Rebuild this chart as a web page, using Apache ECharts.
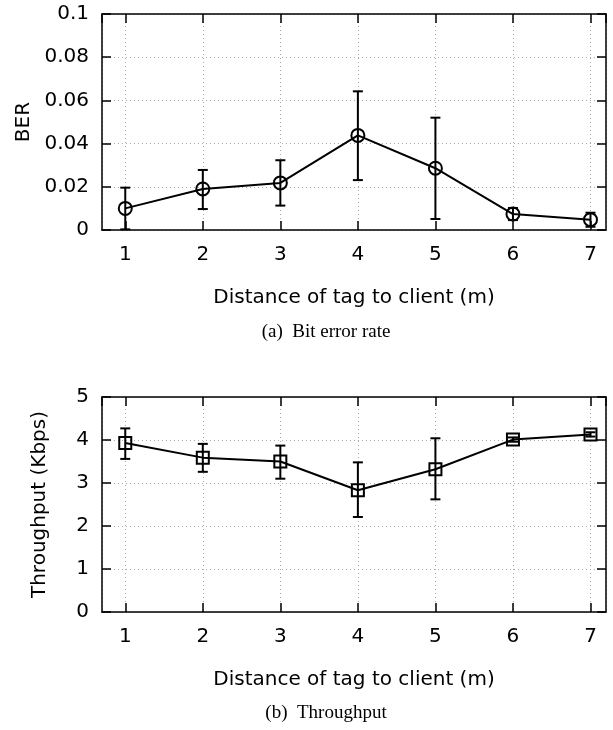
<!DOCTYPE html>
<html>
<head>
<meta charset="utf-8">
<script src="https://cdn.jsdelivr.net/npm/echarts@6/dist/echarts.min.js"></script>
<style>
  html, body { margin: 0; padding: 0; background: #fff; }
  #chart { width: 613px; height: 730px; }
</style>
</head>
<body>
<div id="chart"></div>
<script>
// distances (m)
var distances = [1, 2, 3, 4, 5, 6, 7];
// bit error rate: mean, low, high
var berMean = [0.0100, 0.0190, 0.0218, 0.0438, 0.0286, 0.0074, 0.0048];
var berLow  = [0.0003, 0.0097, 0.0113, 0.0231, 0.0051, 0.0046, 0.0015];
var berHigh = [0.0196, 0.0278, 0.0323, 0.0642, 0.0520, 0.0102, 0.0080];
// throughput (Kbps): mean, low, high
var tpMean = [3.93, 3.59, 3.50, 2.83, 3.32, 4.01, 4.13];
var tpLow  = [3.56, 3.26, 3.10, 2.21, 2.62, 3.96, 4.08];
var tpHigh = [4.27, 3.91, 3.87, 3.48, 4.04, 4.06, 4.18];

var chart = echarts.init(document.getElementById('chart'));

var font = 'DejaVu Sans';
var grid1 = { left: 102, top: 14, width: 504, height: 216 };
var grid2 = { left: 102, top: 397, width: 504, height: 215 };

function pairs(ys) {
  return distances.map(function (d, i) { return [d, ys[i]]; });
}
function errData(lo, hi) {
  return distances.map(function (d, i) { return [d, lo[i], hi[i]]; });
}

function errorBars(api) {
  var top = api.coord([api.value(0), api.value(2)]);
  var bot = api.coord([api.value(0), api.value(1)]);
  var cap = 5;
  var st = { stroke: '#000', lineWidth: 2 };
  return {
    type: 'group',
    children: [
      { type: 'line', shape: { x1: top[0], y1: top[1], x2: bot[0], y2: bot[1] }, style: st },
      { type: 'line', shape: { x1: top[0] - cap, y1: top[1], x2: top[0] + cap, y2: top[1] }, style: st },
      { type: 'line', shape: { x1: bot[0] - cap, y1: bot[1], x2: bot[0] + cap, y2: bot[1] }, style: st }
    ]
  };
}

var gridLine = { show: true, lineStyle: { color: '#aaa', width: 1, type: [1, 3] } };
var frameLine = { show: true, onZero: false, lineStyle: { color: '#000', width: 1.5 } };
var tick = { inside: true, length: 9, lineStyle: { color: '#000', width: 1.5 } };

function xAxes(gi, name) {
  return [{
    type: 'value', gridIndex: gi, position: 'bottom', min: 0.7, max: 7.2, minInterval: 1, maxInterval: 1,
    name: name, nameLocation: 'middle', nameGap: 58,
    nameTextStyle: { fontFamily: font, fontSize: 20, color: '#000' },
    axisLine: frameLine,
    axisTick: tick,
    axisLabel: { fontFamily: font, fontSize: 20, color: '#000', margin: 15, showMinLabel: false, showMaxLabel: false },
    splitLine: gridLine
  }, {
    type: 'value', gridIndex: gi, position: 'top', min: 0.7, max: 7.2, minInterval: 1, maxInterval: 1,
    axisLine: frameLine,
    axisTick: tick,
    axisLabel: { show: false },
    splitLine: { show: false }
  }];
}

function yAxes(gi, name, max, step, gap) {
  return [{
    type: 'value', gridIndex: gi, position: 'left', min: 0, max: max, interval: step,
    name: name, nameLocation: 'middle', nameGap: gap,
    nameTextStyle: { fontFamily: font, fontSize: 20, color: '#000' },
    axisLine: frameLine,
    axisTick: tick,
    axisLabel: { fontFamily: font, fontSize: 20, color: '#000', margin: 13 },
    splitLine: gridLine
  }, {
    type: 'value', gridIndex: gi, position: 'right', min: 0, max: max, interval: step,
    axisLine: frameLine,
    axisTick: tick,
    axisLabel: { show: false },
    splitLine: { show: false }
  }];
}

var lineStyle = { color: '#000', width: 2 };
var markStyle = { color: 'rgba(0,0,0,0)', borderColor: '#000', borderWidth: 2 };
var capFont = '19px "Liberation Serif"';

var option = {
  animation: false,
  backgroundColor: '#fff',
  grid: [grid1, grid2],
  xAxis: xAxes(0, 'Distance of tag to client (m)').concat(xAxes(1, 'Distance of tag to client (m)')),
  yAxis: yAxes(0, 'BER', 0.1, 0.02, 61).concat(yAxes(1, 'Throughput (Kbps)', 5, 1, 52)),
  series: [
    { type: 'custom', xAxisIndex: 0, yAxisIndex: 0, renderItem: function (p, api) { return errorBars(api); }, data: errData(berLow, berHigh), z: 2 },
    { type: 'line', xAxisIndex: 0, yAxisIndex: 0, data: pairs(berMean), symbol: 'circle', symbolSize: 13,
      lineStyle: lineStyle, itemStyle: markStyle, z: 3 },
    { type: 'custom', xAxisIndex: 2, yAxisIndex: 2, renderItem: function (p, api) { return errorBars(api); }, data: errData(tpLow, tpHigh), z: 2 },
    { type: 'line', xAxisIndex: 2, yAxisIndex: 2, data: pairs(tpMean), symbol: 'rect', symbolSize: 12,
      lineStyle: lineStyle, itemStyle: markStyle, z: 3 }
  ],
  graphic: [
    { type: 'text', x: 326, y: 332, style: { text: '(a)  Bit error rate', font: capFont, fill: '#000', align: 'center', verticalAlign: 'middle' } },
    { type: 'text', x: 326, y: 713, style: { text: '(b)  Throughput', font: capFont, fill: '#000', align: 'center', verticalAlign: 'middle' } }
  ]
};

chart.setOption(option);
</script>
</body>
</html>
